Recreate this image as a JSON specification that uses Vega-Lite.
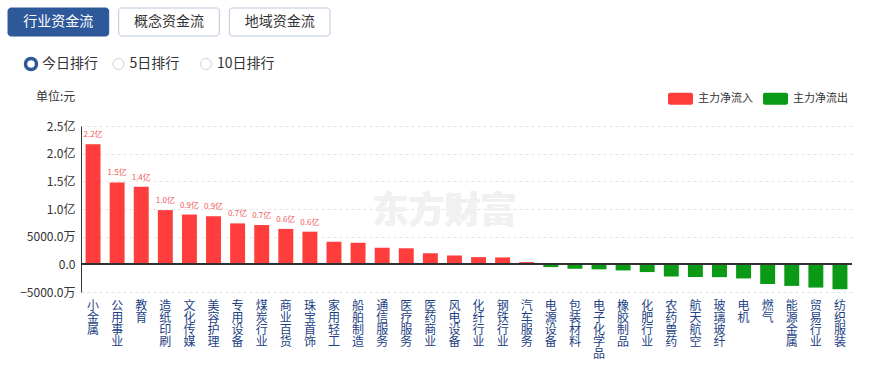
{
  "$schema": "https://vega.github.io/schema/vega-lite/v6.json",
  "background": "white",
  "padding": {"left": 7, "top": 7, "right": 5, "bottom": 2},
  "config": {
    "font": "Noto Sans CJK SC",
    "view": {"stroke": null},
    "text": {"font": "Noto Sans CJK SC"},
    "axis": {"labelOverlap": false},
    "axisY": {"labelOverlap": false}
  },
  "spacing": 14.5,
  "vconcat": [
    {
      "width": 170,
      "height": 28,
      "data": {"values": [
        {"name": "行业资金流", "active": true},
        {"name": "概念资金流", "active": false},
        {"name": "地域资金流", "active": false}
      ]},
      "encoding": {
        "x": {"field": "name", "type": "nominal", "sort": null, "axis": null,
              "scale": {"type": "band", "range": [-73, 249], "paddingInner": 0.09, "paddingOuter": 0}}
      },
      "layer": [
        {
          "mark": {"type": "rect", "cornerRadius": 3, "strokeWidth": 1},
          "encoding": {
            "fill": {"condition": {"test": "datum.active", "value": "#2d5899"}, "value": "#ffffff"},
            "stroke": {"condition": {"test": "datum.active", "value": "#2d5899"}, "value": "#b9c8db"}
          }
        },
        {
          "mark": {"type": "text", "fontSize": 14},
          "encoding": {
            "text": {"field": "name"},
            "color": {"condition": {"test": "datum.active", "value": "#ffffff"}, "value": "#333333"}
          }
        }
      ]
    },
    {
      "width": 170,
      "height": 23,
      "data": {"values": [
        {"name": "今日排行", "active": true},
        {"name": "5日排行", "active": false},
        {"name": "10日排行", "active": false}
      ]},
      "encoding": {
        "x": {"field": "name", "type": "nominal", "sort": null, "axis": null,
              "scale": {"type": "point", "range": [-50, 125], "padding": 0}}
      },
      "layer": [
        {
          "mark": {"type": "point", "shape": "circle", "filled": true, "size": 121, "opacity": 1},
          "encoding": {
            "fill": {"value": "#ffffff"},
            "stroke": {"condition": {"test": "datum.active", "value": "#2d5899"}, "value": "#c9d3df"},
            "strokeWidth": {"condition": {"test": "datum.active", "value": 3.5}, "value": 1}
          }
        },
        {
          "mark": {"type": "text", "align": "left", "dx": 11, "fontSize": 14, "color": "#333333"},
          "encoding": {"text": {"field": "name"}}
        }
      ]
    },
    {
      "width": 771,
      "height": 166,
      "title": {"text": "单位:元", "anchor": "start", "frame": "group", "dx": -45, "fontSize": 12, "fontWeight": "normal", "color": "#333333", "offset": 16},
      "data": {"values": [
        {"industry": "小金属", "value": 217000000, "type": "主力净流入"},
        {"industry": "公用事业", "value": 148000000, "type": "主力净流入"},
        {"industry": "教育", "value": 140000000, "type": "主力净流入"},
        {"industry": "造纸印刷", "value": 98000000, "type": "主力净流入"},
        {"industry": "文化传媒", "value": 90000000, "type": "主力净流入"},
        {"industry": "美容护理", "value": 87000000, "type": "主力净流入"},
        {"industry": "专用设备", "value": 74000000, "type": "主力净流入"},
        {"industry": "煤炭行业", "value": 71000000, "type": "主力净流入"},
        {"industry": "商业百货", "value": 64000000, "type": "主力净流入"},
        {"industry": "珠宝首饰", "value": 59000000, "type": "主力净流入"},
        {"industry": "家用轻工", "value": 41000000, "type": "主力净流入"},
        {"industry": "船舶制造", "value": 39000000, "type": "主力净流入"},
        {"industry": "通信服务", "value": 30000000, "type": "主力净流入"},
        {"industry": "医疗服务", "value": 29000000, "type": "主力净流入"},
        {"industry": "医药商业", "value": 20000000, "type": "主力净流入"},
        {"industry": "风电设备", "value": 16000000, "type": "主力净流入"},
        {"industry": "化纤行业", "value": 13000000, "type": "主力净流入"},
        {"industry": "钢铁行业", "value": 12500000, "type": "主力净流入"},
        {"industry": "汽车服务", "value": 4000000, "type": "主力净流入"},
        {"industry": "电源设备", "value": -5000000, "type": "主力净流出"},
        {"industry": "包装材料", "value": -8000000, "type": "主力净流出"},
        {"industry": "电子化学品", "value": -9000000, "type": "主力净流出"},
        {"industry": "橡胶制品", "value": -11000000, "type": "主力净流出"},
        {"industry": "化肥行业", "value": -14000000, "type": "主力净流出"},
        {"industry": "农药兽药", "value": -22000000, "type": "主力净流出"},
        {"industry": "航天航空", "value": -23000000, "type": "主力净流出"},
        {"industry": "玻璃玻纤", "value": -23200000, "type": "主力净流出"},
        {"industry": "电机", "value": -25500000, "type": "主力净流出"},
        {"industry": "燃气", "value": -35500000, "type": "主力净流出"},
        {"industry": "能源金属", "value": -39000000, "type": "主力净流出"},
        {"industry": "贸易行业", "value": -42000000, "type": "主力净流出"},
        {"industry": "纺织服装", "value": -45000000, "type": "主力净流出"}
      ]},
      "layer": [
        {
          "mark": {"type": "bar"},
          "encoding": {
            "x": {
              "field": "industry", "type": "nominal", "sort": null,
              "scale": {"paddingInner": 0.38, "paddingOuter": 0.19},
              "axis": {
                "title": null, "domain": false, "ticks": false, "labelAngle": 0,
                "labelExpr": "split(datum.label, '')",
                "labelFontSize": 12, "labelLineHeight": 12, "labelColor": "#233f84",
                "labelBaseline": "top", "labelPadding": 8, "labelFont": "Noto Sans CJK SC",
                "labelOverlap": false
              }
            },
            "y": {
              "field": "value", "type": "quantitative",
              "scale": {"domain": [-50000000, 250000000], "nice": false, "zero": true},
              "axis": {
                "title": null,
                "values": [-50000000, 0, 50000000, 100000000, 150000000, 200000000, 250000000],
                "labelExpr": "datum.value == 0 ? '0.0' : (abs(datum.value) >= 100000000 ? format(datum.value / 100000000, '.1f') + '亿' : format(datum.value / 10000, '.1f') + '万')",
                "labelFontSize": 12, "labelColor": "#333333", "labelPadding": 6,
                "labelOverlap": false, "labelSeparation": 0,
                "ticks": false, "domain": true, "domainColor": "#333333",
                "grid": true, "gridDash": [3, 3], "gridColor": "#e3e3e3",
                "labelFont": "Noto Sans CJK SC"
              }
            },
            "color": {
              "field": "type", "type": "nominal",
              "scale": {"domain": ["主力净流入", "主力净流出"], "range": ["#ff3d3d", "#0b9a16"]},
              "legend": {
                "orient": "none", "legendX": 587, "legendY": 78, "direction": "horizontal",
                "title": null,
                "symbolType": "M-0.84,-0.48 H0.84 A0.16,0.16 0 0 1 1,-0.32 V0.32 A0.16,0.16 0 0 1 0.84,0.48 H-0.84 A0.16,0.16 0 0 1 -1,0.32 V-0.32 A0.16,0.16 0 0 1 -0.84,-0.48 Z",
                "symbolSize": 625, "symbolStrokeWidth": 0, "symbolOpacity": 1,
                "labelFontSize": 11, "labelColor": "#333333", "labelOffset": 5, "columnPadding": 10,
                "labelFont": "Noto Sans CJK SC"
              }
            }
          }
        },
        {
          "mark": {"type": "text", "fontSize": 36, "fontWeight": "bold", "color": "#f1f1f1", "dx": -10},
          "encoding": {
            "x": {"datum": "风电设备", "type": "nominal"},
            "y": {"datum": 94000000, "type": "quantitative",
              "axis": {
                "title": null,
                "values": [-50000000, 0, 50000000, 100000000, 150000000, 200000000, 250000000],
                "labelExpr": "datum.value == 0 ? '0.0' : (abs(datum.value) >= 100000000 ? format(datum.value / 100000000, '.1f') + '亿' : format(datum.value / 10000, '.1f') + '万')",
                "labelFontSize": 12, "labelColor": "#333333", "labelPadding": 6,
                "labelOverlap": false, "labelSeparation": 0,
                "ticks": false, "domain": true, "domainColor": "#333333",
                "grid": true, "gridDash": [3, 3], "gridColor": "#e3e3e3",
                "labelFont": "Noto Sans CJK SC"
              }
            },
            "text": {"value": "东方财富"}
          }
        },
        {
          "mark": {"type": "rule", "color": "#333333", "strokeWidth": 1},
          "encoding": {"y": {"datum": 0, "type": "quantitative",
              "axis": {
                "title": null,
                "values": [-50000000, 0, 50000000, 100000000, 150000000, 200000000, 250000000],
                "labelExpr": "datum.value == 0 ? '0.0' : (abs(datum.value) >= 100000000 ? format(datum.value / 100000000, '.1f') + '亿' : format(datum.value / 10000, '.1f') + '万')",
                "labelFontSize": 12, "labelColor": "#333333", "labelPadding": 6,
                "labelOverlap": false, "labelSeparation": 0,
                "ticks": false, "domain": true, "domainColor": "#333333",
                "grid": true, "gridDash": [3, 3], "gridColor": "#e3e3e3",
                "labelFont": "Noto Sans CJK SC"
              }}}
        },
        {
          "transform": [
            {"filter": "datum.value > 50000000"},
            {"calculate": "format(datum.value / 100000000, '.1f') + '亿'", "as": "label"}
          ],
          "mark": {"type": "text", "baseline": "bottom", "dy": -5, "fontSize": 8, "color": "#ee5a5a"},
          "encoding": {
            "x": {"field": "industry", "type": "nominal", "sort": null},
            "y": {"field": "value", "type": "quantitative",
              "axis": {
                "title": null,
                "values": [-50000000, 0, 50000000, 100000000, 150000000, 200000000, 250000000],
                "labelExpr": "datum.value == 0 ? '0.0' : (abs(datum.value) >= 100000000 ? format(datum.value / 100000000, '.1f') + '亿' : format(datum.value / 10000, '.1f') + '万')",
                "labelFontSize": 12, "labelColor": "#333333", "labelPadding": 6,
                "labelOverlap": false, "labelSeparation": 0,
                "ticks": false, "domain": true, "domainColor": "#333333",
                "grid": true, "gridDash": [3, 3], "gridColor": "#e3e3e3",
                "labelFont": "Noto Sans CJK SC"
              }},
            "text": {"field": "label"}
          }
        }
      ]
    }
  ]
}
